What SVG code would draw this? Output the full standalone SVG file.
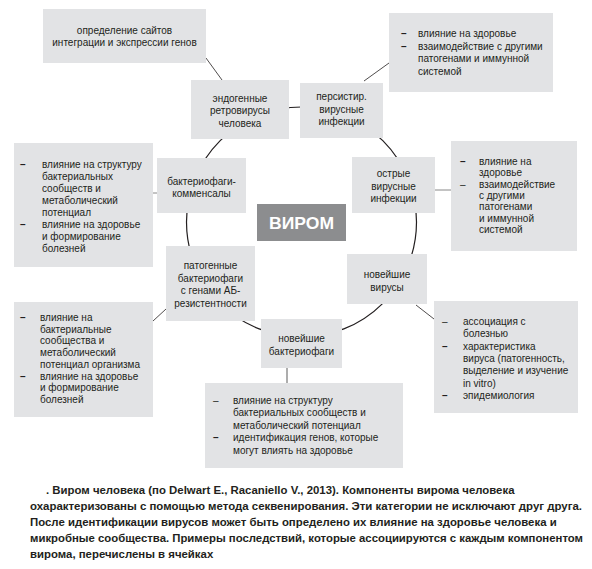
<svg xmlns="http://www.w3.org/2000/svg" width="592" height="569" viewBox="0 0 592 569">
<style>
.box{fill:#e2e3e5;stroke:none}
.t{font-family:"Liberation Sans",Arial,sans-serif;font-size:10px;fill:#231f20}
.c{text-anchor:middle}
.d{font-family:"Liberation Sans",Arial,sans-serif;font-size:10px;fill:#231f20}
.db{font-weight:bold}
.ln{stroke:#231f20;stroke-width:0.8;fill:none}
.lg{stroke:#888;stroke-width:1;fill:none}
.cap{font-family:"Liberation Sans",Arial,sans-serif;font-size:11.4px;font-weight:bold;fill:#231f20}
</style>
<rect width="592" height="569" fill="#fff"/>
<g id="connectors">
<circle cx="301.5" cy="222" r="115" fill="none" stroke="#231f20" stroke-width="1.2"/>
<line class="ln" x1="206" y1="58" x2="222" y2="80"/>
<line class="ln" x1="364" y1="81" x2="389" y2="63"/>
<line class="lg" x1="153" y1="193" x2="157" y2="193"/>
<line class="lg" x1="435" y1="190" x2="451" y2="190"/>
<line class="ln" x1="153" y1="321" x2="166" y2="309"/>
<line class="ln" x1="416" y1="305" x2="434" y2="319"/>
<line stroke="#999" stroke-width="1.6" x1="287" y1="368" x2="287" y2="383"/>
</g>
<g id="n-sites">
<rect class="box" x="43" y="9" width="163" height="54"/>
<text class="t c" x="124.5" y="33.5">определение сайтов</text>
<text class="t c" x="124.5" y="46">интеграции и экспрессии генов</text>
</g>
<g id="n-endo">
<rect class="box" x="191" y="80" width="98" height="59"/>
<text class="t c" x="240" y="101.5">эндогенные</text>
<text class="t c" x="240" y="114">ретровирусы</text>
<text class="t c" x="240" y="126.5">человека</text>
</g>
<g id="n-persist">
<rect class="box" x="300" y="83" width="83" height="55"/>
<text class="t c" x="341.5" y="100">персистир.</text>
<text class="t c" x="341.5" y="112.5">вирусные</text>
<text class="t c" x="341.5" y="125">инфекции</text>
</g>
<g id="n-persist-effects">
<rect class="box" x="389" y="13" width="164" height="79"/>
<text class="d db" x="401" y="37">–</text>
<text class="d db" x="401" y="49.5">–</text>
<text class="t" x="418" y="37">влияние на здоровье</text>
<text class="t" x="418" y="49.5">взаимодействие с другими</text>
<text class="t" x="418" y="62">патогенами и иммунной</text>
<text class="t" x="418" y="74.5">системой</text>
</g>
<g id="n-comm-effects">
<rect class="box" x="14" y="143" width="139" height="124"/>
<text class="d db" x="20" y="168">–</text>
<text class="d db" x="20" y="228">–</text>
<text class="t" x="42" y="168">влияние на структуру</text>
<text class="t" x="42" y="180">бактериальных</text>
<text class="t" x="42" y="192">сообществ и</text>
<text class="t" x="42" y="204">метаболический</text>
<text class="t" x="42" y="216">потенциал</text>
<text class="t" x="42" y="228">влияние на здоровье</text>
<text class="t" x="42" y="240">и формирование</text>
<text class="t" x="42" y="252">болезней</text>
</g>
<g id="n-comm">
<rect class="box" x="157" y="158" width="89" height="55"/>
<text class="t c" x="201.5" y="185">бактериофаги-</text>
<text class="t c" x="201.5" y="197">комменсалы</text>
</g>
<g id="n-virom">
<rect x="257" y="204" width="89" height="37" fill="#8c8d8f"/>
<text x="301.5" y="228.5" text-anchor="middle" font-family="'Liberation Sans',Arial,sans-serif" font-size="16.5" font-weight="bold" fill="#fff" textLength="65" lengthAdjust="spacingAndGlyphs">ВИРОМ</text>
</g>
<g id="n-acute">
<rect class="box" x="352" y="157" width="83" height="56"/>
<text class="t c" x="393.5" y="177">острые</text>
<text class="t c" x="393.5" y="189.5">вирусные</text>
<text class="t c" x="393.5" y="202">инфекции</text>
</g>
<g id="n-acute-effects">
<rect class="box" x="451" y="141" width="126" height="110"/>
<text class="d db" x="460" y="165">–</text>
<text class="d" x="460" y="187.6">–</text>
<text class="t" x="479" y="165">влияние на</text>
<text class="t" x="479" y="176.3">здоровье</text>
<text class="t" x="479" y="187.6">взаимодействие</text>
<text class="t" x="479" y="198.9">с другими</text>
<text class="t" x="479" y="210.2">патогенами</text>
<text class="t" x="479" y="221.5">и иммунной</text>
<text class="t" x="479" y="232.8">системой</text>
</g>
<g id="n-pathogenic">
<rect class="box" x="166" y="246" width="89" height="75"/>
<text class="t c" x="210.5" y="269">патогенные</text>
<text class="t c" x="210.5" y="281.5">бактериофаги</text>
<text class="t c" x="210.5" y="294">с генами АБ-</text>
<text class="t c" x="210.5" y="306.5">резистентности</text>
</g>
<g id="n-pathogenic-effects">
<rect class="box" x="14" y="302" width="139" height="115"/>
<text class="d db" x="20" y="321">–</text>
<text class="d db" x="20" y="379.5">–</text>
<text class="t" x="40" y="321">влияние на</text>
<text class="t" x="40" y="332.7">бактериальные</text>
<text class="t" x="40" y="344.4">сообщества и</text>
<text class="t" x="40" y="356.1">метаболический</text>
<text class="t" x="40" y="367.8">потенциал организма</text>
<text class="t" x="40" y="379.5">влияние на здоровье</text>
<text class="t" x="40" y="391.2">и формирование</text>
<text class="t" x="40" y="402.9">болезней</text>
</g>
<g id="n-newvir">
<rect class="box" x="347" y="254" width="80" height="50"/>
<text class="t c" x="387" y="278">новейшие</text>
<text class="t c" x="387" y="291">вирусы</text>
</g>
<g id="n-newvir-effects">
<rect class="box" x="434" y="301" width="144" height="112"/>
<text class="d" x="442" y="325">–</text>
<text class="d db" x="442" y="349.6">–</text>
<text class="d db" x="442" y="398.8">–</text>
<text class="t" x="463" y="325">ассоциация с</text>
<text class="t" x="463" y="337.3">болезнью</text>
<text class="t" x="463" y="349.6">характеристика</text>
<text class="t" x="463" y="361.9">вируса (патогенность,</text>
<text class="t" x="463" y="374.2">выделение и изучение</text>
<text class="t" x="463" y="386.5">in vitro)</text>
<text class="t" x="463" y="398.8">эпидемиология</text>
</g>
<g id="n-newphage">
<rect class="box" x="261" y="319" width="81" height="49"/>
<text class="t c" x="301.5" y="342">новейшие</text>
<text class="t c" x="301.5" y="355">бактериофаги</text>
</g>
<g id="n-newphage-effects">
<rect class="box" x="205" y="383" width="198" height="85"/>
<text class="d" x="213" y="403.5">–</text>
<text class="d db" x="213" y="441">–</text>
<text class="t" x="233" y="403.5">влияние на структуру</text>
<text class="t" x="233" y="416">бактериальных сообществ и</text>
<text class="t" x="233" y="428.5">метаболический потенциал</text>
<text class="t" x="233" y="441">идентификация генов, которые</text>
<text class="t" x="233" y="453.5">могут влиять на здоровье</text>
</g>
<g id="caption">
<text class="cap" x="46" y="494">. Виром человека (по Delwart E., Racaniello V., 2013). Компоненты вирома человека</text>
<text class="cap" x="30" y="510" textLength="552" lengthAdjust="spacingAndGlyphs">охарактеризованы с помощью метода секвенирования. Эти категории не исключают друг друга.</text>
<text class="cap" x="30" y="526">После идентификации вирусов может быть определено их влияние на здоровье человека и</text>
<text class="cap" x="30" y="542" textLength="553" lengthAdjust="spacingAndGlyphs">микробные сообщества. Примеры последствий, которые ассоциируются с каждым компонентом</text>
<text class="cap" x="30" y="558">вирома, перечислены в ячейках</text>
</g>
</svg>
